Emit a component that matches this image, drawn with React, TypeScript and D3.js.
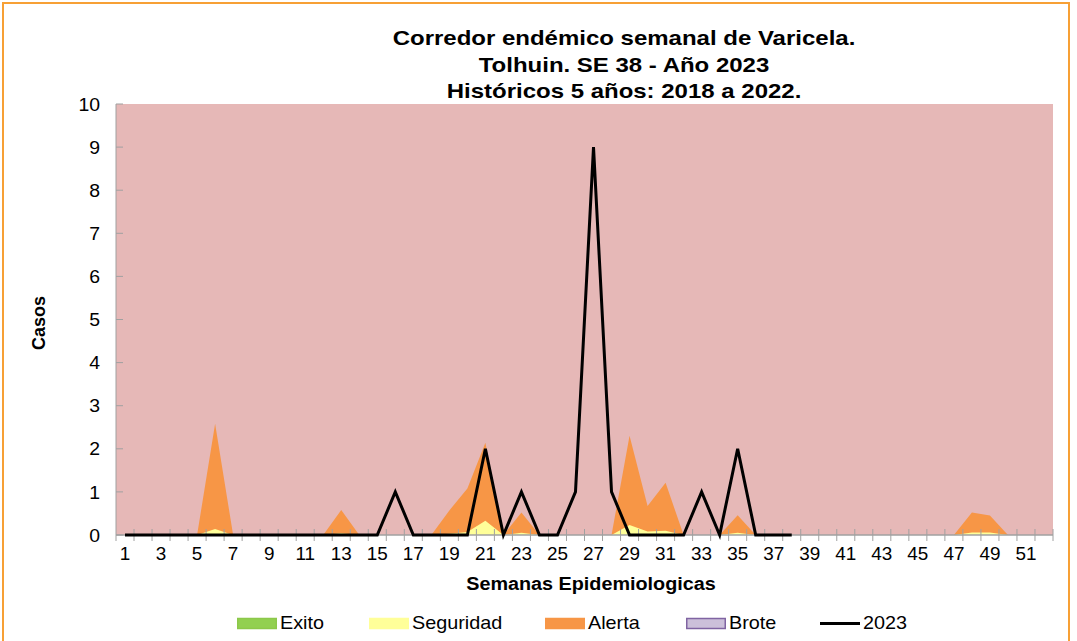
import React from "react";
import * as d3 from "d3";

const weeks = [1,2,3,4,5,6,7,8,9,10,11,12,13,14,15,16,17,18,19,20,21,22,23,24,25,26,27,28,29,30,31,32,33,34,35,36,37,38,39,40,41,42,43,44,45,46,47,48,49,50,51,52];
const exito = [0,0,0,0,0,0,0,0,0,0,0,0,0,0,0,0,0,0,0,0,0,0,0,0,0,0,0,0,0,0,0,0,0,0,0,0,0,0,0,0,0,0,0,0,0,0,0,0,0,0,0,0];
const seguridad = [0,0,0,0,0,0.14,0,0,0,0,0,0,0.04,0,0,0,0,0,0.03,0.07,0.33,0,0.05,0,0,0,0,0,0.23,0.08,0.1,0,0,0,0.05,0,0,0,0,0,0,0,0,0,0,0,0,0.06,0.06,0,0,0];
const alerta = [0,0,0,0,0,2.58,0,0,0,0,0,0,0.58,0,0,0,0,0,0.57,1.08,2.14,0,0.52,0,0,0,0,0,2.3,0.67,1.21,0,0,0,0.46,0,0,0,0,0,0,0,0,0,0,0,0,0.52,0.45,0,0,0];
const cases2023 = [0,0,0,0,0,0,0,0,0,0,0,0,0,0,0,1,0,0,0,0,2,0,1,0,0,1,9,1,0,0,0,0,1,0,2,0,0,0];
const yTicks = [0,1,2,3,4,5,6,7,8,9,10];
const titleLines = ["Corredor endémico semanal de Varicela.", "Tolhuin. SE 38 - Año 2023", "Históricos 5 años: 2018 a 2022."];
const legendItems = [
  { label: "Exito", type: "box", fill: "#92D050", stroke: "#8CC84A" },
  { label: "Seguridad", type: "box", fill: "#FFFF99", stroke: "#FFFF99" },
  { label: "Alerta", type: "box", fill: "#F79646", stroke: "#F79646" },
  { label: "Brote", type: "box", fill: "#CCC0DA", stroke: "#8064A2" },
  { label: "2023", type: "line", fill: "none", stroke: "#000000" },
];

const W = 1077, H = 641;
const M = { left: 116, right: 1053, top: 104, bottom: 535 };
const FONT = "'Liberation Sans', Arial, sans-serif";

function SText(props: { x: number; y: number; sx?: number; anchor?: string; size: number; bold?: boolean; rotate?: number; dy?: string; children: React.ReactNode }) {
  const { x, y, sx = 1, anchor = "start", size, bold, rotate = 0, dy, children } = props;
  return (
    <text
      transform={`translate(${x},${y}) rotate(${rotate}) scale(${sx},1)`}
      textAnchor={anchor}
      fontSize={size}
      fontWeight={bold ? "bold" : "normal"}
      dy={dy}
      fill="#000"
    >
      {children}
    </text>
  );
}

export default function App() {
  const x = d3.scaleBand<number>().domain(weeks).range([M.left, M.right]).padding(0);
  const cx = (w: number) => (x(w) as number) + x.bandwidth() / 2;
  const y = d3.scaleLinear().domain([0, 10]).range([M.bottom, M.top]);

  const areaOf = (vals: number[]) =>
    d3.area<number>().x((_, i) => cx(weeks[i])).y0(y(0)).y1((d) => y(d))(vals) || "";
  const linePath =
    d3.line<number>().x((_, i) => cx(weeks[i])).y((d) => y(d))(cases2023) || "";

  const legendX = [237, 369, 545, 686, 820];

  return (
    <div style={{ position: "absolute", left: 0, top: 0 }}>
      <svg width={W} height={H} style={{ display: "block", fontFamily: FONT }}>
        <rect x={0} y={0} width={W} height={H} fill="#ffffff" />
        <rect x={3} y={3} width={1066} height={640} fill="none" stroke="#F7A035" strokeWidth={2} />
        {titleLines.map((t, i) => (
          <SText key={i} x={624} y={45 + i * 26.5} anchor="middle" bold size={20} sx={1.2}>{t}</SText>
        ))}
        <rect x={M.left} y={M.top} width={M.right - M.left} height={M.bottom - M.top} fill="#E6B8B7" />
        <path d={areaOf(alerta)} fill="#F79646" />
        <path d={areaOf(seguridad)} fill="#FFFF99" />
        <path d={areaOf(exito)} fill="#92D050" />
        <line x1={M.left} x2={M.left} y1={M.top} y2={M.bottom} stroke="#A0A0A0" strokeWidth={1} />
        {yTicks.map((t) => (
          <g key={t}>
            <line x1={M.left} x2={M.left + 7} y1={y(t)} y2={y(t)} stroke="#A0A0A0" />
            <SText x={100} y={y(t)} dy="0.36em" anchor="end" size={18.5} sx={1.05}>{t}</SText>
          </g>
        ))}
        <line x1={M.left} x2={M.right} y1={M.bottom} y2={M.bottom} stroke="#A0A0A0" strokeWidth={1.5} />
        {weeks.map((w) => (
          <line key={w} x1={(x(w) as number) + x.bandwidth()} x2={(x(w) as number) + x.bandwidth()} y1={M.bottom - 6} y2={M.bottom + 6} stroke="#A0A0A0" />
        ))}
        <line x1={M.left} x2={M.left} y1={M.bottom} y2={M.bottom + 6} stroke="#A0A0A0" />
        {weeks.filter((w) => w % 2 === 1).map((w) => (
          <SText key={w} x={cx(w)} y={560} anchor="middle" size={17.5} sx={1.08}>{w}</SText>
        ))}
        <path d={linePath} fill="none" stroke="#000" strokeWidth={3} strokeLinejoin="miter" />
        <SText x={591} y={590} anchor="middle" bold size={18.5} sx={1.07}>Semanas Epidemiologicas</SText>
        <SText x={45} y={323} anchor="middle" bold size={18} rotate={-90}>Casos</SText>
        {legendItems.map((it, i) => (
          <g key={it.label}>
            {it.type === "box" ? (
              <rect x={legendX[i] + 0.75} y={618.5} width={38.5} height={10} fill={it.fill} stroke={it.stroke} strokeWidth={1.5} />
            ) : (
              <line x1={legendX[i]} x2={legendX[i] + 40} y1={623.5} y2={623.5} stroke="#000" strokeWidth={3} />
            )}
            <SText x={legendX[i] + 43} y={629} size={18} sx={1.1}>{it.label}</SText>
          </g>
        ))}
      </svg>
    </div>
  );
}
